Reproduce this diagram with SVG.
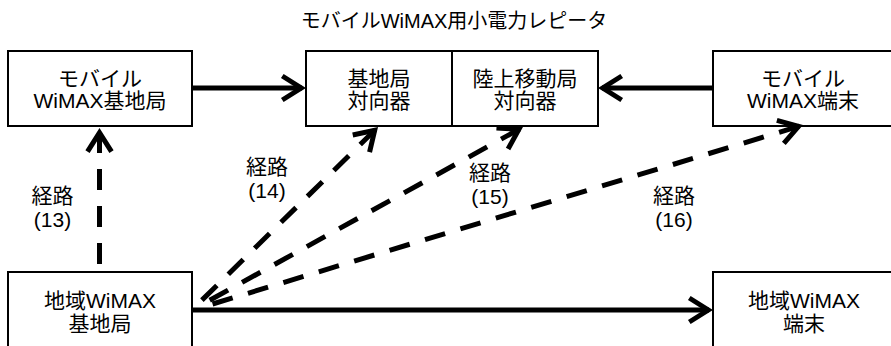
<svg xmlns="http://www.w3.org/2000/svg" width="891" height="346" viewBox="0 0 891 346">
<style>
text{font-family:"Liberation Sans","Noto Sans CJK JP",sans-serif;fill:#000;text-anchor:middle}
.t{font-size:21px}
.title{font-size:20px}
.box{fill:#fff;stroke:#000;stroke-width:2}
.solid{fill:none;stroke:#000;stroke-width:5}
.dash{fill:none;stroke:#000;stroke-width:5;stroke-dasharray:21 16}
</style>
<defs>
<marker id="ah" viewBox="-25 -15 30 30" refX="0" refY="0" markerWidth="30" markerHeight="30" markerUnits="userSpaceOnUse" orient="auto-start-reverse" overflow="visible">
<path d="M-19.7,-12 L-0.7,0 L-19.7,12" fill="none" stroke="#000" stroke-width="5" stroke-linejoin="miter" stroke-miterlimit="10"/>
</marker>
</defs>
<text class="title" x="454" y="28">モバイルWiMAX用小電力レピータ</text>
<g id="mobile-bs">
<rect class="box" x="8" y="51" width="184" height="75"/>
<text class="t" x="100" y="86">モバイル</text>
<text class="t" x="100" y="108">WiMAX基地局</text>
</g>
<g id="repeater">
<rect class="box" x="306" y="51" width="292" height="75"/>
<line x1="452" y1="51" x2="452" y2="126" stroke="#000" stroke-width="2"/>
<g id="bs-facing">
<text class="t" x="379" y="86">基地局</text>
<text class="t" x="379" y="108">対向器</text>
</g>
<g id="ms-facing">
<text class="t" x="525" y="86">陸上移動局</text>
<text class="t" x="525" y="108">対向器</text>
</g>
</g>
<g id="mobile-term">
<rect class="box" x="713" y="51" width="190" height="75"/>
<text class="t" x="803" y="86">モバイル</text>
<text class="t" x="803" y="108">WiMAX端末</text>
</g>
<g id="local-bs">
<rect class="box" x="8" y="272" width="184" height="90"/>
<text class="t" x="100" y="308">地域WiMAX</text>
<text class="t" x="100" y="331">基地局</text>
</g>
<g id="local-term">
<rect class="box" x="713" y="272" width="190" height="90"/>
<text class="t" x="804" y="308">地域WiMAX</text>
<text class="t" x="804" y="331">端末</text>
</g>
<g id="connectors">
<path class="solid" d="M193,88 L302,88" marker-end="url(#ah)"/>
<path class="solid" d="M712,88 L602,88" marker-end="url(#ah)"/>
<path class="solid" d="M193,310 L709,310" marker-end="url(#ah)"/>
<path class="dash" d="M99.5,132 L99.5,271" marker-start="url(#ah)"/>
<path class="dash" d="M375.2,129.8 L200,302" marker-start="url(#ah)"/>
<path class="dash" d="M519.5,129 L203,304" marker-start="url(#ah)"/>
<path class="dash" d="M799.2,126.2 L206,306" marker-start="url(#ah)"/>
</g>
<g id="labels">
<text class="t" x="52.5" y="203">経路</text>
<text class="t" x="52.5" y="227">(13)</text>
<text class="t" x="267" y="174">経路</text>
<text class="t" x="267" y="198">(14)</text>
<text class="t" x="490" y="180">経路</text>
<text class="t" x="490" y="204">(15)</text>
<text class="t" x="674" y="203">経路</text>
<text class="t" x="674" y="227">(16)</text>
</g>
</svg>
